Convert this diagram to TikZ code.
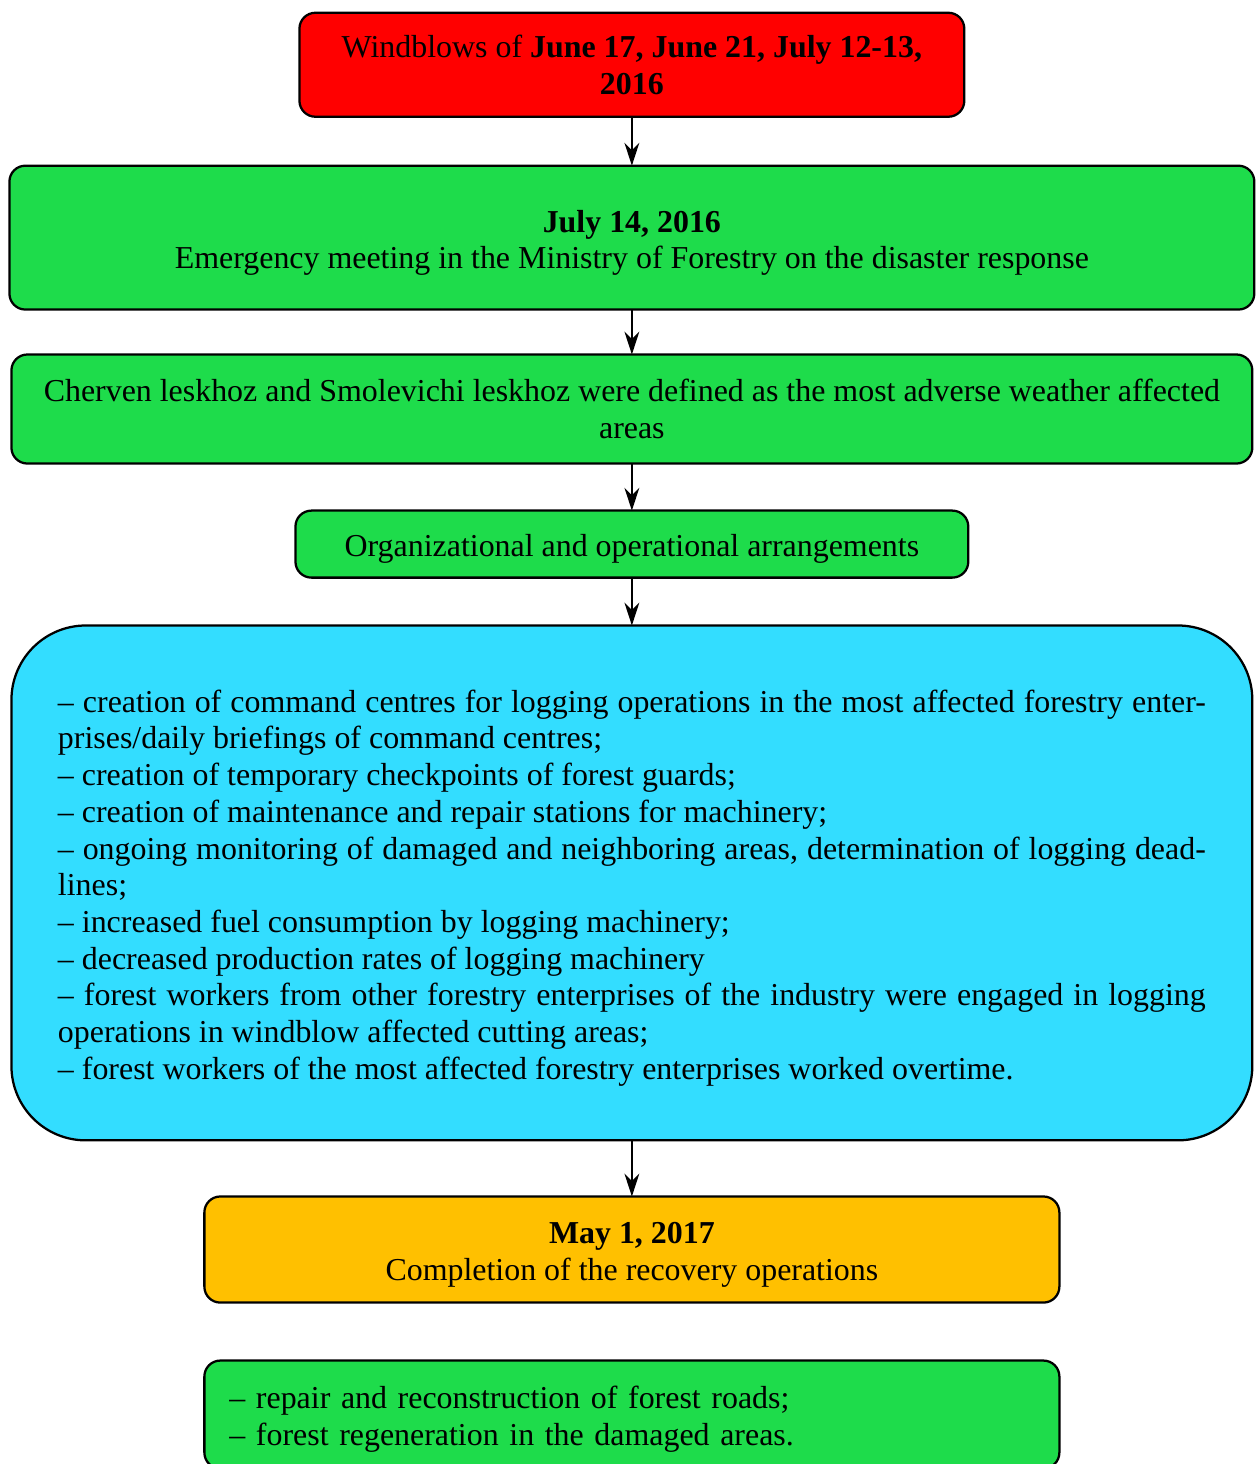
\documentclass[tikz,border=0pt]{standalone}
\usepackage{fontspec}
\setmainfont{Liberation Serif}
\usepackage[dvipsnames]{xcolor}
\usepackage{tikz}
\usetikzlibrary{arrows.meta}
\usetikzlibrary{positioning}

\definecolor{windred}{RGB}{255,0,0}
\definecolor{stepgreen}{RGB}{30,220,75}
\definecolor{listblue}{RGB}{51,221,255}
\definecolor{doneorange}{RGB}{255,192,0}

\begin{document}
\begin{tikzpicture}[>={Stealth[length=8.6pt,width=5.6pt,inset=2.8pt]},
        box/.style={draw, line width=0.85pt, rounded corners=6pt, inner sep=0pt, outer sep=0pt,
            font=\fontsize{12}{13.8}\selectfont, align=center,
            execute at begin node={\rule{0pt}{12.2pt}}},
        link/.style={->, line width=0.5pt}]
        \def\W{473.4pt}
        \def\H{550.5pt}

        \useasboundingbox (0,0) rectangle (\W,-\H);

        \node[box, fill=windred, minimum width=250pt, minimum height=39.1pt,
            below=4.8pt of {(237.6pt,0)}, anchor=north] (wind)
            {Windblows of \textbf{June 17, June 21, July 12-13,}\\\textbf{2016}};
        \node[box, fill=stepgreen, minimum width=468.1pt, minimum height=54.1pt, text width=460pt,
            align=flush center, below=18.4pt of wind] (meet)
            {\textbf{July 14, 2016}\\Emergency meeting in the Ministry of Forestry on the disaster response};
        \node[box, fill=stepgreen, minimum width=466.6pt, minimum height=41pt,
            below=16.9pt of meet] (area)
            {Cherven leskhoz and Smolevichi leskhoz were defined as the most adverse weather affected\\areas};
        \node[box, fill=stepgreen, minimum width=253pt, minimum height=25.2pt,
            below=17.7pt of area] (arr)
            {Organizational and operational arrangements};
        \node[box, fill=listblue, rounded corners=28pt, minimum width=466.6pt, minimum height=193.6pt,
            text width=431.6pt, align=justify, below=18pt of arr] (meas)
            {– creation of command centres for logging operations in the most affected forestry enter-\linebreak
            prises/daily briefings of command centres;\\
            – creation of temporary checkpoints of forest guards;\\
            – creation of maintenance and repair stations for machinery;\\
            – ongoing monitoring of damaged and neighboring areas, determination of logging dead-\linebreak
            lines;\\
            – increased fuel consumption by logging machinery;\\
            – decreased production rates of logging machinery\\
            – forest workers from other forestry enterprises of the industry were engaged in logging\linebreak
            operations in windblow affected cutting areas;\\
            – forest workers of the most affected forestry enterprises worked overtime.};
        \node[box, fill=doneorange, minimum width=321.5pt, minimum height=39.9pt, text width=310pt,
            align=flush center, below=21.1pt of meas] (done)
            {\textbf{May 1, 2017}\\Completion of the recovery operations};
        \node[box, fill=stepgreen, minimum width=321.5pt, minimum height=40.6pt,
            text width=302.7pt, align=left, below=21.8pt of done] (post)
            {– repair and reconstruction of forest roads;\\
            – forest regeneration in the damaged areas.};

        \draw[link] (wind) -- (meet);
        \draw[link] (meet) -- (area);
        \draw[link] (area) -- (arr);
        \draw[link] (arr) -- (meas);
        \draw[link] (meas) -- (done);
    \end{tikzpicture}
\end{document}
